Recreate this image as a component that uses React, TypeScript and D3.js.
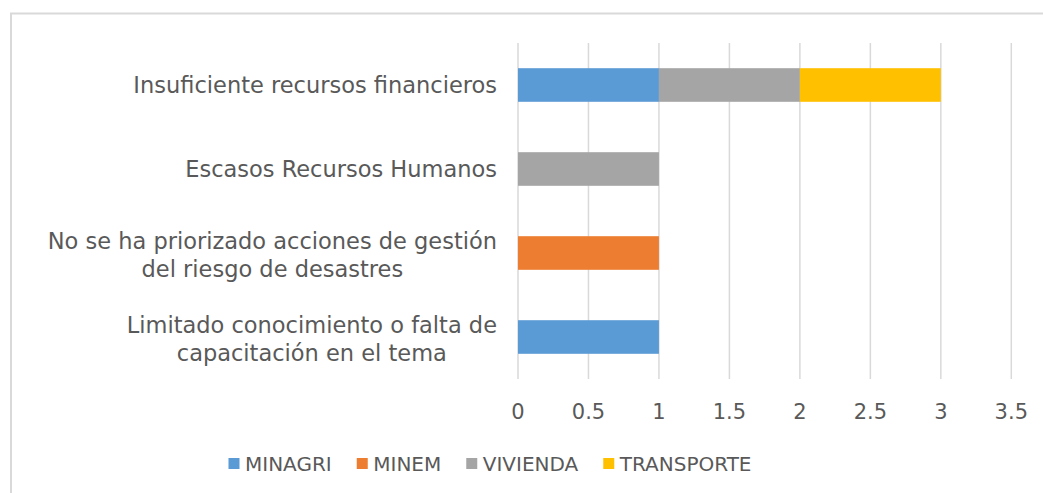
import React, { useEffect, useRef } from "react";
import * as d3 from "d3";

const categories = [
  ["Insuficiente recursos financieros"],
  ["Escasos Recursos Humanos"],
  ["No se ha priorizado acciones de gestión", "del riesgo de desastres"],
  ["Limitado conocimiento o falta de", "capacitación en el tema"],
];
const seriesNames = ["MINAGRI", "MINEM", "VIVIENDA", "TRANSPORTE"];
const seriesColors = ["#5B9BD5", "#ED7D31", "#A5A5A5", "#FFC000"];
const minagri = [1, 0, 0, 1];
const minem = [0, 0, 1, 0];
const vivienda = [1, 1, 0, 0];
const transporte = [1, 0, 0, 0];
const xTicks = [0, 0.5, 1, 1.5, 2, 2.5, 3, 3.5];

const W = 1043;
const H = 493;
const FONT = "'Century Gothic', 'DejaVu Sans', sans-serif";
const TEXT = "#595959";

export default function App() {
  const ref = useRef<SVGSVGElement>(null);

  useEffect(() => {
    const svg = d3.select(ref.current);
    svg.selectAll("*").remove();

    // outer border
    svg.append("rect")
      .attr("x", 11).attr("y", 13.5)
      .attr("width", W + 20).attr("height", H + 20)
      .attr("fill", "white").attr("stroke", "#d9d9d9").attr("stroke-width", 2);

    const left = 518, right = 1011.3, top = 43, bottom = 379;
    const x = d3.scaleLinear().domain([0, 3.5]).range([left, right]);
    const y = d3.scaleBand<number>().domain(d3.range(categories.length)).range([top, bottom]).paddingInner(0.6).paddingOuter(0.3);

    // gridlines
    svg.append("g").selectAll("line").data(xTicks).join("line")
      .attr("x1", d => x(d)).attr("x2", d => x(d))
      .attr("y1", top).attr("y2", bottom)
      .attr("stroke", "#d9d9d9").attr("stroke-width", 1.5);

    // stacked bars
    const rows = categories.map((_, i) => ({
      MINAGRI: minagri[i], MINEM: minem[i], VIVIENDA: vivienda[i], TRANSPORTE: transporte[i], i,
    }));
    const stack = d3.stack<any>().keys(seriesNames)(rows);
    stack.forEach((layer, si) => {
      svg.append("g").selectAll("rect").data(layer.filter(d => d[1] - d[0] > 0)).join("rect")
        .attr("x", d => x(d[0]))
        .attr("width", d => x(d[1]) - x(d[0]))
        .attr("y", d => y(d.data.i)!)
        .attr("height", y.bandwidth())
        .attr("fill", seriesColors[si]);
    });

    // tick labels
    svg.append("g").selectAll("text").data(xTicks).join("text")
      .attr("x", d => x(d)).attr("y", 412)
      .attr("text-anchor", "middle").attr("dominant-baseline", "central")
      .attr("font-family", FONT).attr("font-size", 21).attr("fill", TEXT)
      .text(d => String(d));

    // category labels
    const labelRight = 497;
    const lineH = 28;
    categories.forEach((lines, i) => {
      const cy = y(i)! + y.bandwidth() / 2 + (lines.length > 1 ? 2 : 0);
      const g = svg.append("g");
      const texts = lines.map((ln, k) =>
        g.append("text")
          .attr("y", cy + (k - (lines.length - 1) / 2) * lineH)
          .attr("dominant-baseline", "central")
          .attr("text-anchor", "middle")
          .attr("font-family", FONT).attr("font-size", 22.5).attr("fill", TEXT)
          .text(ln)
      );
      const widths = texts.map(t => (t.node() as SVGTextElement).getComputedTextLength());
      const maxW = d3.max(widths) || 0;
      texts.forEach(t => t.attr("x", labelRight - maxW / 2));
    });

    // legend
    const lg = svg.append("g");
    const sq = 11, gapIn = 5.5, gapOut = 25;
    let cx = 0;
    const items: { g: any; w: number }[] = [];
    seriesNames.forEach((name, si) => {
      const ig = lg.append("g");
      ig.append("rect").attr("x", 0).attr("y", 463.5 - sq / 2).attr("width", sq).attr("height", sq).attr("fill", seriesColors[si]);
      const t = ig.append("text").attr("x", sq + gapIn).attr("y", 463.5)
        .attr("dominant-baseline", "central")
        .attr("font-family", FONT).attr("font-size", 20).attr("fill", TEXT).text(name);
      const w = sq + gapIn + (t.node() as SVGTextElement).getComputedTextLength();
      items.push({ g: ig, w });
    });
    const total = d3.sum(items, d => d.w) + gapOut * (items.length - 1);
    cx = 490 - total / 2;
    items.forEach(it => {
      it.g.attr("transform", `translate(${cx},0)`);
      cx += it.w + gapOut;
    });
  }, []);

  return (
    <svg ref={ref} width={W} height={H}
      style={{ position: "absolute", left: 0, top: 0, background: "white" }} />
  );
}
